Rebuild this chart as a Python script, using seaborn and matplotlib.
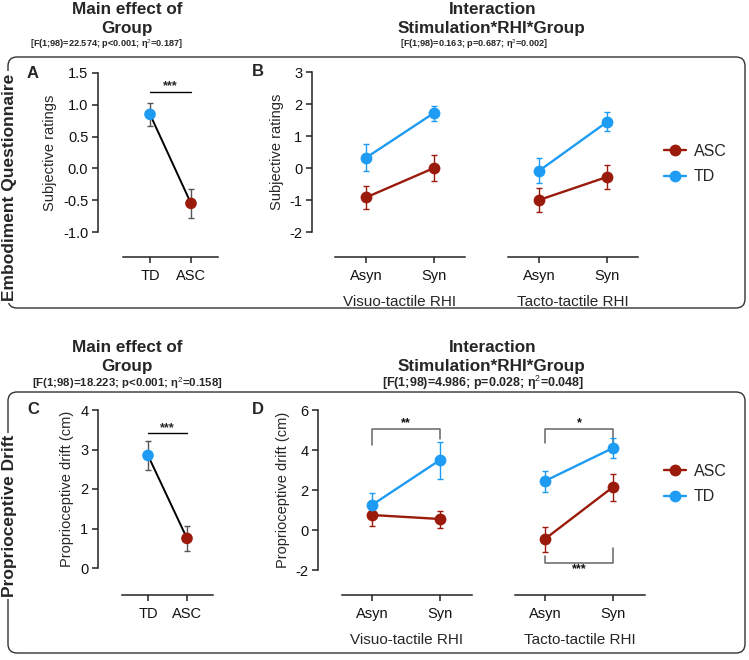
import matplotlib
matplotlib.use("Agg")
import matplotlib.pyplot as plt
import seaborn as sns
import pandas as pd
from matplotlib.patches import FancyBboxPatch

# ---- data ----
groups = ["TD", "ASC"]
stims = ["Asyn", "Syn"]
hue_order = ["ASC", "TD"]

# A: embodiment, main effect of group
a_mean = [0.85, -0.55]
a_lo = [0.66, -0.78]
a_hi = [1.03, -0.32]

# B: embodiment, visuo-tactile / tacto-tactile
b_vis_asc = [-0.92, 0.0]
b_vis_asc_lo = [-1.28, -0.42]
b_vis_asc_hi = [-0.55, 0.42]
b_vis_td = [0.32, 1.72]
b_vis_td_lo = [-0.10, 1.47]
b_vis_td_hi = [0.74, 1.95]
b_tac_asc = [-1.00, -0.28]
b_tac_asc_lo = [-1.38, -0.66]
b_tac_asc_hi = [-0.63, 0.10]
b_tac_td = [-0.09, 1.44]
b_tac_td_lo = [-0.47, 1.16]
b_tac_td_hi = [0.31, 1.75]

# C: proprioceptive drift, main effect of group
c_mean = [2.85, 0.75]
c_lo = [2.47, 0.43]
c_hi = [3.22, 1.07]

# D: proprioceptive drift
d_vis_asc = [0.75, 0.55]
d_vis_asc_lo = [0.20, 0.10]
d_vis_asc_hi = [1.35, 0.95]
d_vis_td = [1.25, 3.50]
d_vis_td_lo = [0.67, 2.55]
d_vis_td_hi = [1.83, 4.42]
d_tac_asc = [-0.45, 2.15]
d_tac_asc_lo = [-1.10, 1.45]
d_tac_asc_hi = [0.15, 2.80]
d_tac_td = [2.45, 4.10]
d_tac_td_lo = [1.90, 3.60]
d_tac_td_hi = [2.95, 4.60]

stats_emb_group = "[F(1;98)=22.574; p<0.001; η$^2$=0.187]"
stats_emb_inter = "[F(1;98)=0.163; p=0.687; η$^2$=0.002]"
stats_pd_group = "[F(1;98)=18.223; p<0.001; η$^2$=0.158]"
stats_pd_inter = "[F(1;98)=4.986; p=0.028; η$^2$=0.048]"

colors = {"ASC": "#9a1b0c", "TD": "#1e9bf3"}

sns.set_theme(style="ticks")
plt.rcParams["font.family"] = ["Liberation Sans", "DejaVu Sans"]
plt.rcParams["axes.unicode_minus"] = False
plt.rcParams["mathtext.fontset"] = "custom"
plt.rcParams["mathtext.rm"] = "Liberation Sans"

W, H = 749, 660
fig = plt.figure(figsize=(W / 100, H / 100), dpi=100)


def rect(x0, y0, x1, y1):
    return [x0 / W, 1 - y1 / H, (x1 - x0) / W, (y1 - y0) / H]


def ftext(x, y, s, **kw):
    fig.text(x / W, 1 - y / H, s, **kw)


def style_axes(ax, ylim, yticks, xlim, left_off, bottom_off, show_left=True):
    ax.set_ylim(ylim)
    ax.set_xlim(xlim)
    ax.set_yticks(yticks)
    for s in ["top", "right"]:
        ax.spines[s].set_visible(False)
    ax.spines["bottom"].set_position(("outward", bottom_off * 0.72))
    ax.spines["left"].set_position(("outward", left_off * 0.72))
    for s in ["bottom", "left"]:
        ax.spines[s].set_linewidth(1.1)
        ax.spines[s].set_color("#222222")
    ax.tick_params(axis="both", length=4, width=1.1, color="#222222",
                   labelsize=10.5, labelcolor="#111111", pad=3)
    ax.tick_params(axis="x", pad=4.5)
    if not show_left:
        ax.spines["left"].set_visible(False)
        ax.set_yticks([])
    ax.set_facecolor("none")
    ax.set_ylabel("")
    ax.set_xlabel("")


def group_panel(ax, mean, lo, hi, ylim, yticks, xlim, left_off, bottom_off, ylabel):
    df = pd.DataFrame({"group": groups, "x": [0, 1], "mean": mean})
    sns.lineplot(data=df, x="x", y="mean", color="black", lw=1.4, ax=ax, zorder=2)
    ax.errorbar(df["x"], df["mean"],
                yerr=[[m - l for m, l in zip(mean, lo)], [h - m for m, h in zip(mean, hi)]],
                fmt="none", ecolor="#555555", elinewidth=1.0, capsize=2.2, capthick=1.0, zorder=3)
    sns.scatterplot(data=df, x="x", y="mean", hue="group", palette=colors, s=70,
                    linewidth=0, legend=False, ax=ax, zorder=4)
    style_axes(ax, ylim, yticks, xlim, left_off, bottom_off)
    ax.set_xticks([0, 1])
    ax.set_xticklabels(groups)
    ax.set_ylabel(ylabel, fontsize=10.5, labelpad=4)


def stim_panel(ax, asc, asc_lo, asc_hi, td, td_lo, td_hi, ylim, yticks, xlim,
               left_off, bottom_off, xlabel, show_left, ylabel=""):
    df = pd.DataFrame({
        "stim": stims * 2,
        "x": [0, 1, 0, 1],
        "group": ["ASC", "ASC", "TD", "TD"],
        "mean": asc + td,
        "lo": asc_lo + td_lo,
        "hi": asc_hi + td_hi,
    })
    for g in hue_order:
        sub = df[df["group"] == g]
        ax.errorbar(sub["x"], sub["mean"],
                    yerr=[sub["mean"] - sub["lo"], sub["hi"] - sub["mean"]],
                    fmt="none", ecolor=colors[g], elinewidth=1.0, capsize=2.2,
                    capthick=1.0, zorder=3)
    sns.lineplot(data=df, x="x", y="mean", hue="group", hue_order=hue_order,
                 palette=colors, marker="o", markersize=8.5, markeredgewidth=0,
                 lw=1.7, ax=ax, legend=False, zorder=4)
    style_axes(ax, ylim, yticks, xlim, left_off, bottom_off, show_left)
    ax.set_xticks([0, 1])
    ax.set_xticklabels(stims)
    ax.set_xlabel(xlabel, fontsize=11, labelpad=9)
    if ylabel:
        ax.set_ylabel(ylabel, fontsize=10.5, labelpad=4)


def bracket(ax, x0, x1, y_line, y0_end, y1_end, label, label_y):
    ax.plot([x0, x0, x1, x1], [y0_end, y_line, y_line, y1_end], color="#666666",
            lw=1.1, clip_on=False, zorder=1)
    ax.text((x0 + x1) / 2, label_y, label, ha="center", va="center",
            fontsize=9, fontweight="bold", color="#111111")


# ---- top row: embodiment questionnaire ----
axA = fig.add_axes(rect(123, 73, 218, 232))
group_panel(axA, a_mean, a_lo, a_hi, (-1.0, 1.5), [-1.0, -0.5, 0.0, 0.5, 1.0, 1.5],
            (-0.66, 1.66), 25, 25, "Subjective ratings")
axA.set_yticklabels(["-1.0", "-0.5", "0.0", "0.5", "1.0", "1.5"])
axA.plot([0, 1], [1.2, 1.2], color="black", lw=1.0)
axA.text(0.5, 1.29, "***", ha="center", va="center", fontsize=9, fontweight="bold")

axB1 = fig.add_axes(rect(335, 72, 465, 232))
stim_panel(axB1, b_vis_asc, b_vis_asc_lo, b_vis_asc_hi, b_vis_td, b_vis_td_lo, b_vis_td_hi,
           (-2, 3), [-2, -1, 0, 1, 2, 3], (-0.456, 1.456), 23, 25,
           "Visuo-tactile RHI", True, "Subjective ratings")
axB2 = fig.add_axes(rect(508, 72, 638, 232))
stim_panel(axB2, b_tac_asc, b_tac_asc_lo, b_tac_asc_hi, b_tac_td, b_tac_td_lo, b_tac_td_hi,
           (-2, 3), [], (-0.456, 1.456), 23, 25, "Tacto-tactile RHI", False)

# ---- bottom row: proprioceptive drift ----
axC = fig.add_axes(rect(122, 410, 213, 568))
group_panel(axC, c_mean, c_lo, c_hi, (0, 4), [0, 1, 2, 3, 4],
            (-0.667, 1.667), 24, 27, "Proprioceptive drift (cm)")
axC.plot([0, 1], [3.42, 3.42], color="black", lw=1.0)
axC.text(0.5, 3.55, "***", ha="center", va="center", fontsize=9, fontweight="bold")

axD1 = fig.add_axes(rect(342, 410, 472, 570))
stim_panel(axD1, d_vis_asc, d_vis_asc_lo, d_vis_asc_hi, d_vis_td, d_vis_td_lo, d_vis_td_hi,
           (-2, 6), [-2, 0, 2, 4, 6], (-0.44, 1.47), 24, 25,
           "Visuo-tactile RHI", True, "Proprioceptive drift (cm)")
bracket(axD1, 0, 1, 5.05, 4.25, 4.55, "**", 5.35)

axD2 = fig.add_axes(rect(515, 410, 645, 570))
stim_panel(axD2, d_tac_asc, d_tac_asc_lo, d_tac_asc_hi, d_tac_td, d_tac_td_lo, d_tac_td_hi,
           (-2, 6), [], (-0.44, 1.47), 24, 25, "Tacto-tactile RHI", False)
bracket(axD2, 0, 1, 5.05, 4.35, 4.35, "*", 5.35)
bracket(axD2, 0, 1, -1.65, -1.3, -0.9, "***", -1.98)

# ---- legends ----
for y_c in (164, 484):
    handles = [plt.Line2D([], [], color=colors[g], marker="o", markersize=8.5,
                          markeredgewidth=0, lw=1.7) for g in hue_order]
    fig.legend(handles, hue_order, loc="center left",
               bbox_to_anchor=(664 / W, 1 - y_c / H), frameon=False,
               fontsize=11.5, handlelength=1.35, handletextpad=0.5,
               labelspacing=0.65, borderpad=0, borderaxespad=0)

# ---- rounded boxes ----
for (x0, y0, x1, y1) in [(8, 57, 745, 308), (8, 392, 745, 653)]:
    box = FancyBboxPatch((x0 / 100, (H - y1) / 100), (x1 - x0) / 100, (y1 - y0) / 100,
                         boxstyle="round,pad=0,rounding_size=0.09",
                         transform=fig.dpi_scale_trans, fill=False,
                         edgecolor="#333333", lw=1.0, zorder=0)
    fig.add_artist(box)

# ---- titles / labels ----
ftext(127, 10, "Main effect of", ha="center", va="center", fontsize=12.3, fontweight="bold")
ftext(127, 29, "Group", ha="center", va="center", fontsize=12.3, fontweight="bold")
ftext(107, 44, stats_emb_group, ha="center", va="center", fontsize=6.6, fontweight="bold")
ftext(493, 10, "Interaction", ha="center", va="center", fontsize=12.3, fontweight="bold")
ftext(491, 29, "Stimulation*RHI*Group", ha="center", va="center", fontsize=12.3, fontweight="bold")
ftext(474, 44, stats_emb_inter, ha="center", va="center", fontsize=6.6, fontweight="bold")

ftext(127, 347, "Main effect of", ha="center", va="center", fontsize=12.3, fontweight="bold")
ftext(127, 366, "Group", ha="center", va="center", fontsize=12.3, fontweight="bold")
ftext(127, 383, stats_pd_group, ha="center", va="center", fontsize=8.2, fontweight="bold")
ftext(493, 347, "Interaction", ha="center", va="center", fontsize=12.3, fontweight="bold")
ftext(491, 366, "Stimulation*RHI*Group", ha="center", va="center", fontsize=12.3, fontweight="bold")
ftext(483, 383, stats_pd_inter, ha="center", va="center", fontsize=9.0, fontweight="bold")

for (x, y, s) in [(33, 73, "A"), (258, 72, "B"), (33, 410, "C"), (258, 410, "D")]:
    ftext(x, y, s, ha="center", va="center", fontsize=12, fontweight="bold")

for (y, s) in [(187, "Embodiment Questionnaire"), (516, "Proprioceptive Drift")]:
    ftext(10, y, s, ha="center", va="center", rotation=90, fontsize=12.5,
          fontweight="bold", zorder=5,
          bbox=dict(facecolor="white", edgecolor="none", pad=1.5))

fig.savefig("out.png", dpi=100)
